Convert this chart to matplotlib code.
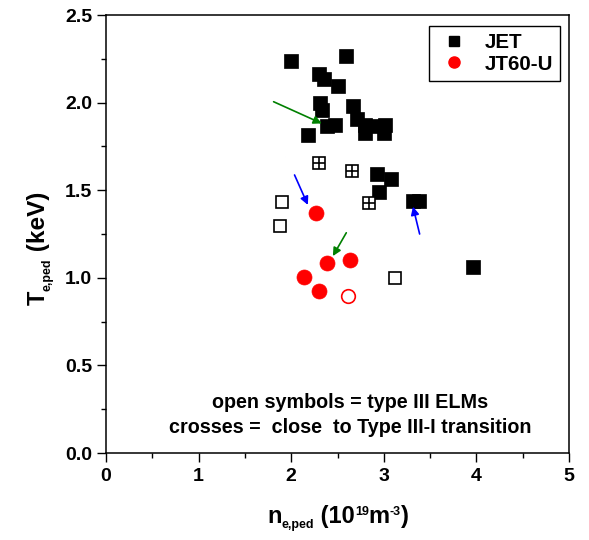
import matplotlib
matplotlib.use("Agg")
import matplotlib.pyplot as plt
from matplotlib.ticker import MultipleLocator, FormatStrFormatter

plt.rcParams['font.family'] = ['Liberation Sans', 'DejaVu Sans']

# JET, type I ELMs (filled squares)
jet_x = [2.00, 2.595, 2.295, 2.35, 2.50, 2.306, 2.33, 2.667, 2.386, 2.476, 2.71,
         2.80, 2.80, 2.908, 3.016, 2.998, 2.18, 2.926, 3.08, 2.95, 3.32, 3.38, 3.96]
jet_y = [2.24, 2.265, 2.165, 2.135, 2.095, 1.995, 1.96, 1.98, 1.865, 1.87, 1.905,
         1.87, 1.825, 1.865, 1.87, 1.825, 1.815, 1.59, 1.565, 1.49, 1.44, 1.44, 1.06]
# JET, type III ELMs (open squares)
jet_open_x = [1.906, 1.88, 3.124]
jet_open_y = [1.434, 1.297, 0.997]
# JET, close to type III-I transition (crossed squares)
jet_cross_x = [2.30, 2.66, 2.836]
jet_cross_y = [1.657, 1.61, 1.425]
# JT60-U
jt_x = [2.27, 2.386, 2.63, 2.133, 2.295]
jt_y = [1.372, 1.083, 1.10, 1.003, 0.925]
jt_open_x = [2.61]
jt_open_y = [0.898]

# arrows: (start_x, start_y, end_x, end_y, colour)
arrows = [
    (1.81, 2.005, 2.33, 1.881, '#008000'),
    (2.036, 1.587, 2.18, 1.416, '#0000ff'),
    (3.387, 1.25, 3.315, 1.406, '#0000ff'),
    (2.595, 1.257, 2.45, 1.124, '#008000'),
]

legend_labels = ['JET', 'JT60-U']
note_lines = ['open symbols = type III ELMs',
              'crosses =  close  to Type III-I transition']

W, H = 589, 540
fig = plt.figure(figsize=(W / 100, H / 100), dpi=100)
ax = fig.add_axes([106 / W, 1 - 453 / H, (569 - 106) / W, (453 - 15) / H])

ax.plot(jet_x, jet_y, 's', color='black', ms=9.4, mec='black', mew=0.5, ls='none', zorder=3)
ax.plot(jet_open_x, jet_open_y, 's', mfc='white', mec='black', ms=8.3, mew=1.2, ls='none', zorder=3)
ax.plot(jet_cross_x, jet_cross_y, 's', mfc='white', mec='black', ms=8.3, mew=1.2, ls='none', zorder=3)
ax.plot(jet_cross_x, jet_cross_y, '+', color='black', ms=8.3, mew=1.2, ls='none', zorder=4)
ax.plot(jt_x, jt_y, 'o', color='#ff0000', ms=10.8, mec='#ff0000', mew=0.5, ls='none', zorder=3)
ax.plot(jt_open_x, jt_open_y, 'o', mfc='white', mec='#ff0000', ms=9.8, mew=1.2, ls='none', zorder=3)

for sx, sy, ex, ey, c in arrows:
    ax.annotate('', xy=(ex, ey), xytext=(sx, sy),
                arrowprops=dict(arrowstyle='-|>', color=c, lw=1.2,
                                mutation_scale=12, shrinkA=0, shrinkB=0))

# legend proxies
h1, = ax.plot([], [], 's', color='black', ms=6.5)
h2, = ax.plot([], [], 'o', color='#ff0000', ms=8)
leg = ax.legend([h1, h2], legend_labels, loc='upper right',
                bbox_to_anchor=((560 - 106) / 463, (453 - 26) / 438), borderaxespad=0,
                fancybox=False, framealpha=1, edgecolor='black',
                prop={'size': 14.8, 'weight': 'bold'},
                handletextpad=0.59, borderpad=0.35, labelspacing=0.12, handlelength=1.77)
leg.get_frame().set_linewidth(1.0)

ax.text(2.64, 0.256, note_lines[0], ha='center', va='baseline', fontsize=14.2, fontweight='bold')
ax.text(2.64, 0.114, note_lines[1], ha='center', va='baseline', fontsize=14.2, fontweight='bold')

ax.set_xlim(0, 5)
ax.set_ylim(0, 2.5)
ax.xaxis.set_major_locator(MultipleLocator(1))
ax.xaxis.set_minor_locator(MultipleLocator(0.5))
ax.yaxis.set_major_locator(MultipleLocator(0.5))
ax.yaxis.set_minor_locator(MultipleLocator(0.25))
ax.yaxis.set_major_formatter(FormatStrFormatter('%.1f'))
ax.tick_params(which='both', direction='out', top=False, right=False, width=1.0)
ax.tick_params(which='major', length=6.5, labelsize=14)
ax.tick_params(which='minor', length=3.5)
ax.tick_params(axis='y', which='major', pad=3.5)
ax.tick_params(axis='x', which='major', pad=4.5)
for lab in ax.get_xticklabels() + ax.get_yticklabels():
    lab.set_fontweight('bold')
for sp in ax.spines.values():
    sp.set_linewidth(1.1)


def chain(pieces, x0, y0, rotation=0):
    """Place text pieces one after another. pieces: (text, size, shift_px).
    x0, y0: display pixel coords of the start of the baseline."""
    objs = []
    for txt, size, shift in pieces:
        t = fig.text(0, 0, txt, fontsize=size, fontweight='bold', rotation=rotation,
                     rotation_mode='anchor', ha='left', va='baseline')
        objs.append((t, shift))
    fig.canvas.draw()
    r = fig.canvas.get_renderer()
    pos = 0.0
    for t, shift in objs:
        bb = t.get_window_extent(r)
        if rotation == 0:
            t.set_position(((x0 + pos) / W, (y0 + shift) / H))
            pos += bb.width
        else:
            t.set_position(((x0 - shift) / W, (y0 + pos) / H))
            pos += bb.height


# x label: n_{e,ped} (10^{19} m^{-3})
chain([('n', 17, 0), ('e,ped', 9, -5), (' (10', 17, 0), ('19', 9, 8),
       ('m', 17, 0), ('-3', 9, 8), (')', 17, 0)], 267, H - 523)
# y label: T_{e,ped} (keV)
chain([('T', 17, 0), ('e,ped', 9, -5), (' (keV)', 17.5, 0)], 45, H - 305, rotation=90)

fig.savefig('out.png', dpi=100)
